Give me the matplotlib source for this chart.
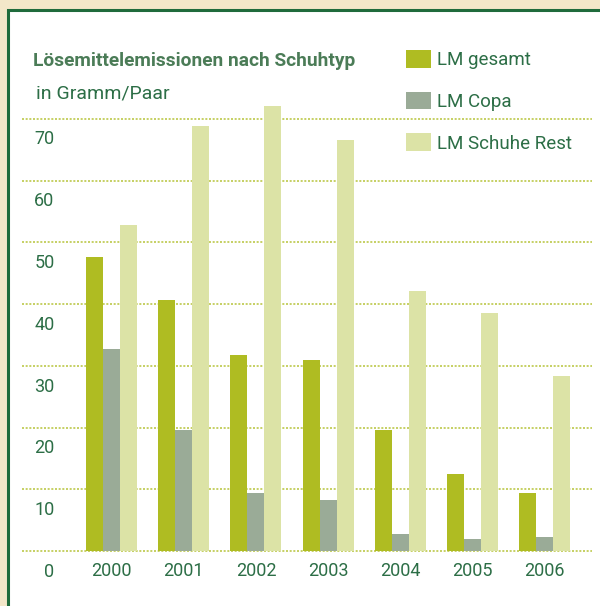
#!/usr/bin/env python3
"""Lösemittelemissionen nach Schuhtyp - grouped bar chart."""

import matplotlib
matplotlib.use('Agg')
import matplotlib.pyplot as plt
from matplotlib.patches import Rectangle

# Data (Gramm/Paar)
years = ['2000', '2001', '2002', '2003', '2004', '2005', '2006']
lm_gesamt = [47.6, 40.7, 31.8, 31.0, 19.6, 12.5, 9.4]
lm_copa = [32.7, 19.6, 9.4, 8.3, 2.8, 2.0, 2.3]
lm_rest = [52.8, 68.8, 72.0, 66.6, 42.1, 38.6, 28.4]
series_names = ['LM gesamt', 'LM Copa', 'LM Schuhe Rest']
y_ticks = [0, 10, 20, 30, 40, 50, 60, 70]

# Styling
COLORS = ['#afbc22', '#9aab97', '#dce3a6']
GRID_COLOR = '#bcc84a'
TEXT_COLOR = '#2c6e46'
TITLE_COLOR = '#4b7c57'
BORDER_COLOR = '#1f6b3c'
CREAM = '#f3e7c9'

plt.rcParams['font.family'] = ['Liberation Sans Narrow', 'Roboto', 'DejaVu Sans']

W, H = 600, 606
fig = plt.figure(figsize=(W / 100, H / 100), dpi=100, facecolor=CREAM)

# white panel with green frame (runs off the right and bottom edge)
fig.patches.append(Rectangle((7.5 / W, -0.2), 1.2, 1.2 - 10 / H,
                             transform=fig.transFigure, facecolor='white',
                             edgecolor=BORDER_COLOR, linewidth=2.2, zorder=-5))

# axes placed in pixel terms
ax = fig.add_axes([22 / W, (H - 551.3) / H, 570 / W, 451.3 / H])
ax.set_zorder(2)
ax.set_facecolor('none')
ax.set_xlim(-1.2396, 6.6551)
ax.set_ylim(0, 451.3 / 6.18)
for s in ax.spines.values():
    s.set_visible(False)
ax.set_xticks([])
ax.set_yticks([])

# dotted grid
for v in y_ticks:
    ax.axhline(v, color=GRID_COLOR, linewidth=1.2,
               linestyle=(0, (1.2, 1.0)), zorder=1, clip_on=False)

bw = 17 / 72.2
x = list(range(len(years)))
for k, (vals, name) in enumerate(zip([lm_gesamt, lm_copa, lm_rest], series_names)):
    ax.bar([i + (k - 1) * bw for i in x], vals, width=bw, color=COLORS[k],
           label=name, zorder=2, linewidth=0)

# y labels sit below their gridline
for v in y_ticks:
    ax.annotate(str(v), xy=(0, v), xycoords=ax.get_yaxis_transform(),
                xytext=(23.4, -18.5), textcoords='offset points',
                ha='right', va='baseline', fontsize=13, color=TEXT_COLOR)

# year labels
for i, yr in zip(x, years):
    ax.annotate(yr, xy=(i, 0), xycoords=ax.get_xaxis_transform(),
                xytext=(0, -17.8), textcoords='offset points',
                ha='center', va='baseline', fontsize=13, color=TEXT_COLOR)

# titles
fig.text(33 / W, 1 - 66 / H, 'Lösemittelemissionen nach Schuhtyp',
         fontsize=13.8, fontweight='bold', color=TITLE_COLOR,
         ha='left', va='baseline')
fig.text(36 / W, 1 - 99 / H, 'in Gramm/Paar', fontsize=14,
         color=TEXT_COLOR, ha='left', va='baseline')

# legend
fs = 13.5
fs_px = fs * 100 / 72
ax.legend(loc='upper left', bbox_to_anchor=(406 / W, 1 - 50 / H),
          bbox_transform=fig.transFigure, frameon=False, fontsize=fs,
          labelcolor=TEXT_COLOR, borderpad=0, borderaxespad=0,
          handlelength=25 / fs_px, handleheight=20 / fs_px,
          handletextpad=6 / fs_px, labelspacing=1.2)

fig.savefig('out.png', dpi=100, facecolor=CREAM)
